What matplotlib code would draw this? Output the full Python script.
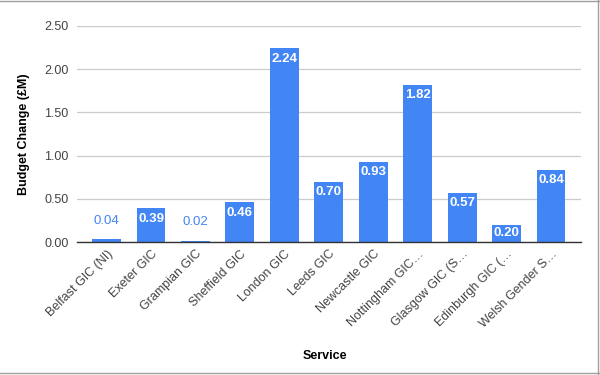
import matplotlib
matplotlib.use("Agg")
import matplotlib.pyplot as plt
from matplotlib.lines import Line2D

services = ["Belfast GIC (NI)", "Exeter GIC", "Grampian GIC", "Sheffield GIC",
            "London GIC", "Leeds GIC", "Newcastle GIC", "Nottingham GIC…",
            "Glasgow GIC (S…", "Edinburgh GIC (…", "Welsh Gender S…"]
budget_change = [0.04, 0.39, 0.02, 0.46, 2.24, 0.70, 0.93, 1.82, 0.57, 0.20, 0.84]
y_ticks = [0.0, 0.5, 1.0, 1.5, 2.0, 2.5]

C_BAR = "#4285F4"
C_TEXT = "#444444"

plt.rcParams.update({"font.family": ["Liberation Sans", "DejaVu Sans"], "font.size": 9})

fig = plt.figure(figsize=(6, 3.75), dpi=100)
ax = fig.add_axes([0.128, 0.354, 0.84, 0.577])

x = list(range(len(services)))
ax.bar(x, budget_change, width=0.65, color=C_BAR, zorder=3)

for xi, v in zip(x, budget_change):
    if v >= 0.15:
        # white label inside the bar, kept off the baseline for short bars
        ax.text(xi, max(v - 0.121, 0.108), f"{v:.2f}", ha="center", va="center",
                color="white", fontweight="bold", fontsize=9.5, zorder=4)
    else:
        ax.annotate(f"{v:.2f}", xy=(xi, v), xytext=(0, 13), textcoords="offset points",
                    ha="center", va="center", color=C_BAR, fontsize=9.5, zorder=4)

ax.set_xlim(-0.67, len(services) - 1 + 0.67)
ax.set_ylim(0, 2.5)
ax.set_yticks(y_ticks)
ax.set_yticklabels([f"{t:.2f}" for t in y_ticks], color=C_TEXT, fontsize=9)
ax.set_xticks(x)
ax.set_xticklabels(services, rotation=45, ha="right", rotation_mode="anchor",
                   color=C_TEXT, fontsize=9)
ax.tick_params(axis="both", length=0, pad=6)
ax.tick_params(axis="x", pad=4)

ax.grid(axis="y", color="#cccccc", lw=0.9, zorder=0)
for side in ("top", "right", "left"):
    ax.spines[side].set_visible(False)
ax.spines["bottom"].set_color("#333333")
ax.spines["bottom"].set_linewidth(1.0)
ax.spines["bottom"].set_zorder(5)

ax.set_ylabel("Budget Change (£M)", fontweight="bold", fontsize=9, labelpad=10)
fig.text(0.5417, 0.05, "Service", ha="center", va="center", fontweight="bold", fontsize=9)

# screenshot frame
for xs, ys in [([0, 1], [0.997, 0.997]), ([0.997, 0.997], [0, 1]), ([0, 1], [0.005, 0.005])]:
    fig.add_artist(Line2D(xs, ys, transform=fig.transFigure, color="#9e9e9e", lw=1))

fig.savefig("out.png", dpi=100)
